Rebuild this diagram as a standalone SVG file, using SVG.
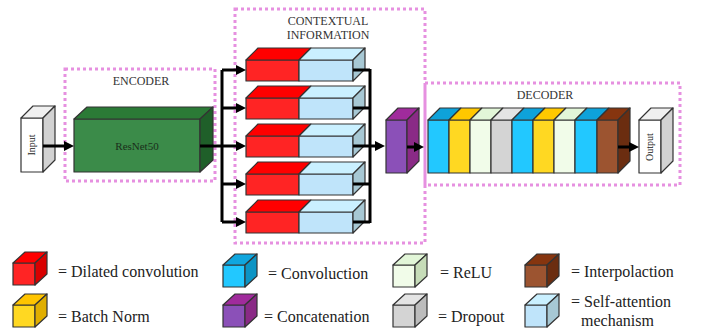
<svg xmlns="http://www.w3.org/2000/svg" width="706" height="330" viewBox="0 0 706 330">
<defs>
<style>
.f{stroke:#333;stroke-width:1.2;stroke-linejoin:round}
.dot{fill:none;stroke:#e690e0;stroke-width:3;stroke-dasharray:3 3}
.ln{fill:none;stroke:#000;stroke-width:3}
.ar{fill:none;stroke:#000;stroke-width:3;marker-end:url(#ah)}
.lbl{font-family:"Liberation Serif","Times New Roman",serif;font-size:12px;fill:#333;text-anchor:middle}
.lg{font-family:"Liberation Serif","Times New Roman",serif;font-size:16px;fill:#222}
.sm{font-family:"Liberation Serif","Times New Roman",serif;font-size:10px;fill:#222;text-anchor:middle}
</style>
<marker id="ah" markerUnits="userSpaceOnUse" markerWidth="11" markerHeight="11" refX="2" refY="5" orient="auto">
<path d="M0,0 L10,5 L0,10 z" fill="#000"/>
</marker>
</defs>
<rect width="706" height="330" fill="#fff"/>

<!-- region boxes -->
<g id="encoder-box">
<rect class="dot" x="65" y="69" width="150" height="112"/>
<text class="lbl" x="141" y="85">ENCODER</text>
</g>
<g id="context-box">
<rect class="dot" x="235" y="9" width="190" height="234"/>
<text class="lbl" x="328" y="25">CONTEXTUAL</text>
<text class="lbl" x="328" y="39">INFORMATION</text>
</g>
<g id="decoder-box">
<rect class="dot" x="425" y="83" width="255" height="102"/>
<text class="lbl" x="545" y="99">DECODER</text>
</g>

<!-- nodes -->
<g id="input">
<rect class="f" x="21" y="118" width="22" height="54" fill="#fff"/>
<polygon class="f" points="21,118 33,106 55,106 43,118" fill="#f0f0f0"/>
<polygon class="f" points="43,118 55,106 55,160 43,172" fill="#d2d2d2"/>
<text class="sm" transform="translate(35,145) rotate(-90)">Input</text>
</g>

<g id="resnet50">
<rect class="f" x="74" y="119" width="126" height="53" fill="#3b8b49"/>
<polygon class="f" points="74,119 87,107 213,107 200,119" fill="#2b7a36"/>
<polygon class="f" points="200,119 213,107 213,160 200,172" fill="#1f5f29"/>
<text x="137" y="150" font-family="Liberation Serif, serif" font-size="11" fill="#1a2e1a" text-anchor="middle">ResNet50</text>
</g>

<g id="branch1">
<rect class="f" x="246" y="60" width="53" height="21" fill="#ff2424"/>
<polygon class="f" points="246,60 258,48 311,48 299,60" fill="#ff0000"/>
<rect class="f" x="299" y="60" width="54" height="21" fill="#bfe4fa"/>
<polygon class="f" points="299,60 311,48 365,48 353,60" fill="#caf0ff"/>
<polygon class="f" points="353,60 365,48 365,69 353,81" fill="#a7c8d4"/>
</g>
<g id="branch2">
<rect class="f" x="246" y="98" width="53" height="21" fill="#ff2424"/>
<polygon class="f" points="246,98 258,86 311,86 299,98" fill="#ff0000"/>
<rect class="f" x="299" y="98" width="54" height="21" fill="#bfe4fa"/>
<polygon class="f" points="299,98 311,86 365,86 353,98" fill="#caf0ff"/>
<polygon class="f" points="353,98 365,86 365,107 353,119" fill="#a7c8d4"/>
</g>
<g id="branch3">
<rect class="f" x="246" y="136" width="53" height="21" fill="#ff2424"/>
<polygon class="f" points="246,136 258,124 311,124 299,136" fill="#ff0000"/>
<rect class="f" x="299" y="136" width="54" height="21" fill="#bfe4fa"/>
<polygon class="f" points="299,136 311,124 365,124 353,136" fill="#caf0ff"/>
<polygon class="f" points="353,136 365,124 365,145 353,157" fill="#a7c8d4"/>
</g>
<g id="branch4">
<rect class="f" x="246" y="174" width="53" height="21" fill="#ff2424"/>
<polygon class="f" points="246,174 258,162 311,162 299,174" fill="#ff0000"/>
<rect class="f" x="299" y="174" width="54" height="21" fill="#bfe4fa"/>
<polygon class="f" points="299,174 311,162 365,162 353,174" fill="#caf0ff"/>
<polygon class="f" points="353,174 365,162 365,183 353,195" fill="#a7c8d4"/>
</g>
<g id="branch5">
<rect class="f" x="246" y="212" width="53" height="21" fill="#ff2424"/>
<polygon class="f" points="246,212 258,200 311,200 299,212" fill="#ff0000"/>
<rect class="f" x="299" y="212" width="54" height="21" fill="#bfe4fa"/>
<polygon class="f" points="299,212 311,200 365,200 353,212" fill="#caf0ff"/>
<polygon class="f" points="353,212 365,200 365,221 353,233" fill="#a7c8d4"/>
</g>

<g id="concat">
<rect class="f" x="386" y="120" width="21" height="53" fill="#8b50b8"/>
<polygon class="f" points="386,120 398,108 419,108 407,120" fill="#a02b9c"/>
<polygon class="f" points="407,120 419,108 419,161 407,173" fill="#8a2a86"/>
</g>

<g id="decoder">
<rect class="f" x="428" y="120" width="21" height="53" fill="#22c8ff"/>
<polygon class="f" points="428,120 440,108 461,108 449,120" fill="#0ea2da"/>
<rect class="f" x="449" y="120" width="21" height="53" fill="#ffd822"/>
<polygon class="f" points="449,120 461,108 482,108 470,120" fill="#ffc800"/>
<rect class="f" x="470" y="120" width="21" height="53" fill="#f1fce9"/>
<polygon class="f" points="470,120 482,108 503,108 491,120" fill="#e2f6d8"/>
<rect class="f" x="491" y="120" width="21" height="53" fill="#d4d4d4"/>
<polygon class="f" points="491,120 503,108 524,108 512,120" fill="#e4e4e4"/>
<rect class="f" x="512" y="120" width="21" height="53" fill="#22c8ff"/>
<polygon class="f" points="512,120 524,108 545,108 533,120" fill="#0ea2da"/>
<rect class="f" x="533" y="120" width="21" height="53" fill="#ffd822"/>
<polygon class="f" points="533,120 545,108 566,108 554,120" fill="#ffc800"/>
<rect class="f" x="554" y="120" width="21" height="53" fill="#f1fce9"/>
<polygon class="f" points="554,120 566,108 587,108 575,120" fill="#e2f6d8"/>
<rect class="f" x="575" y="120" width="22" height="53" fill="#22c8ff"/>
<polygon class="f" points="575,120 587,108 609,108 597,120" fill="#0ea2da"/>
<rect class="f" x="597" y="120" width="21" height="53" fill="#9c5430"/>
<polygon class="f" points="597,120 609,108 630,108 618,120" fill="#86350f"/>
<polygon class="f" points="618,120 630,108 630,161 618,173" fill="#6b2d10"/>
</g>

<g id="output">
<rect class="f" x="639" y="120" width="22" height="53" fill="#fff"/>
<polygon class="f" points="639,120 651,108 673,108 661,120" fill="#f0f0f0"/>
<polygon class="f" points="661,120 673,108 673,161 661,173" fill="#d2d2d2"/>
<text class="sm" transform="translate(653,147) rotate(-90)">Output</text>
</g>

<!-- connectors -->
<g id="connectors">
<path class="ar" d="M43,146 H66"/>
<path class="ln" d="M200,146 H222"/>
<path class="ln" d="M222,70 V222"/>
<path class="ar" d="M222,70 H238"/>
<path class="ar" d="M222,108 H238"/>
<path class="ar" d="M222,146 H238"/>
<path class="ar" d="M222,184 H238"/>
<path class="ar" d="M222,222 H238"/>
<path class="ln" d="M353,70 H370 M353,108 H370 M353,184 H370 M353,222 H370"/>
<path class="ln" d="M370,69 V223"/>
<path class="ar" d="M353,146 H377"/>
<path class="ar" d="M407,147 H416"/>
<path class="ar" d="M618,147 H631"/>
</g>

<!-- legend -->
<g id="legend-dilated">
<rect class="f" x="13" y="263" width="22" height="22" fill="#ff2424"/>
<polygon class="f" points="13,263 25,252 47,252 35,263" fill="#ff0000"/>
<polygon class="f" points="35,263 47,252 47,274 35,285" fill="#d80000"/>
<text class="lg" x="58" y="277">= Dilated convolution</text>
</g>
<g id="legend-bn">
<rect class="f" x="13" y="305" width="22" height="22" fill="#ffd822"/>
<polygon class="f" points="13,305 25,294 47,294 35,305" fill="#ffc400"/>
<polygon class="f" points="35,305 47,294 47,316 35,327" fill="#e0ae00"/>
<text class="lg" x="58" y="322">= Batch Norm</text>
</g>
<g id="legend-conv">
<rect class="f" x="223" y="265" width="22" height="22" fill="#22c8ff"/>
<polygon class="f" points="223,265 235,254 257,254 245,265" fill="#10a6de"/>
<polygon class="f" points="245,265 257,254 257,276 245,287" fill="#0c94c4"/>
<text class="lg" x="268" y="279">= Convoluction</text>
</g>
<g id="legend-concat">
<rect class="f" x="223" y="305" width="22" height="22" fill="#8b50b8"/>
<polygon class="f" points="223,305 235,294 257,294 245,305" fill="#a02b9c"/>
<polygon class="f" points="245,305 257,294 257,316 245,327" fill="#8a2a86"/>
<text class="lg" x="264" y="322">= Concatenation</text>
</g>
<g id="legend-relu">
<rect class="f" x="393" y="265" width="22" height="22" fill="#f1fce9"/>
<polygon class="f" points="393,265 405,254 427,254 415,265" fill="#e2f6d8"/>
<polygon class="f" points="415,265 427,254 427,276 415,287" fill="#c6dcb8"/>
<text class="lg" x="440" y="278">= ReLU</text>
</g>
<g id="legend-dropout">
<rect class="f" x="393" y="305" width="22" height="22" fill="#d4d4d4"/>
<polygon class="f" points="393,305 405,294 427,294 415,305" fill="#e4e4e4"/>
<polygon class="f" points="415,305 427,294 427,316 415,327" fill="#bcbcbc"/>
<text class="lg" x="438" y="322">= Dropout</text>
</g>
<g id="legend-interp">
<rect class="f" x="525" y="265" width="22" height="22" fill="#9c5430"/>
<polygon class="f" points="525,265 537,254 559,254 547,265" fill="#86350f"/>
<polygon class="f" points="547,265 559,254 559,276 547,287" fill="#6b2d10"/>
<text class="lg" x="571" y="277">= Interpolaction</text>
</g>
<g id="legend-selfatt">
<rect class="f" x="525" y="305" width="22" height="22" fill="#bfe4fa"/>
<polygon class="f" points="525,305 537,294 559,294 547,305" fill="#caf0ff"/>
<polygon class="f" points="547,305 559,294 559,316 547,327" fill="#a7c8d4"/>
<text class="lg" x="571" y="307">= Self-attention</text>
<text class="lg" x="581" y="326">mechanism</text>
</g>
</svg>
